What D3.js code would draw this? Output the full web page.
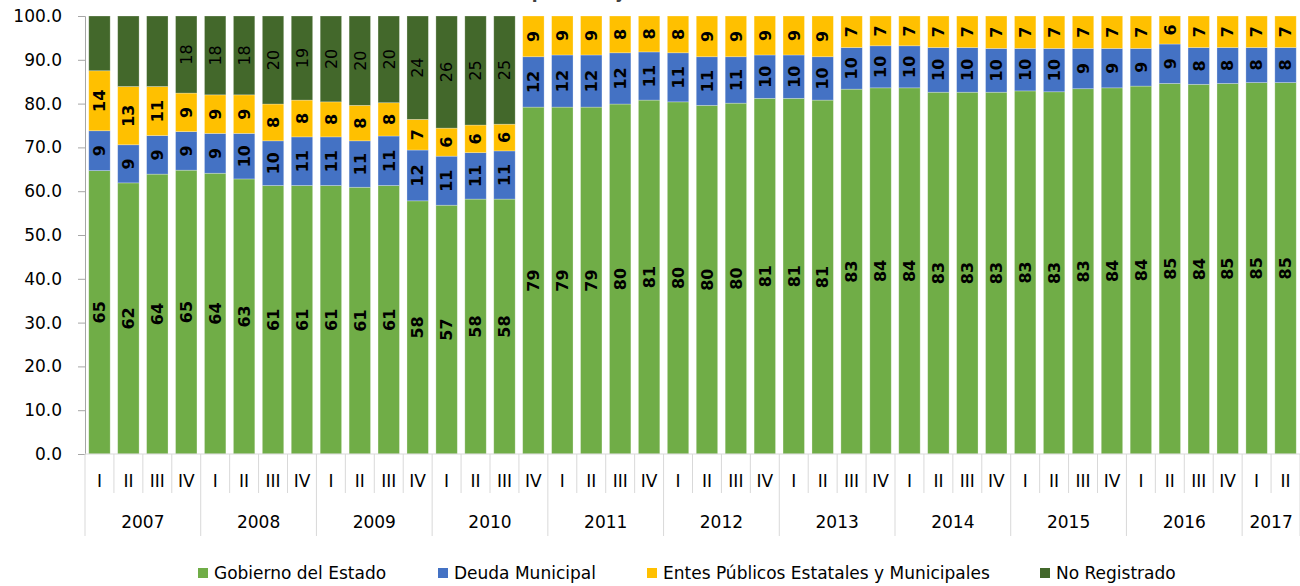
<!DOCTYPE html>
<html>
<head>
<meta charset="utf-8">
<script src="https://cdn.jsdelivr.net/npm/d3@7"></script>
<style>
  html, body { margin: 0; padding: 0; background: #fff; }
  svg { display: block; }
  text { font-family: "DejaVu Sans", "Noto Sans", sans-serif; }
</style>
</head>
<body>
<svg id="chart" width="1300" height="586"></svg>
<script>
// ---------------- data ----------------
const years = ["2007","2008","2009","2010","2011","2012","2013","2014","2015","2016","2017"];
const quarterNames = ["I","II","III","IV"];
const quartersPerYear = [4,4,4,4,4,4,4,4,4,4,2];

const seriesNames = ["Gobierno del Estado","Deuda Municipal","Entes Públicos Estatales y Municipales","No Registrado"];
const seriesColors = ["#70AD47","#4472C4","#FFC000","#43682B"];

const gobierno = [64.7, 61.9, 63.9, 64.8, 64.1, 62.8, 61.3, 61.3, 61.3, 60.9, 61.3, 57.8, 56.8, 58.2, 58.2,
                  79.2, 79.2, 79.2, 79.9, 80.8, 80.4, 79.6, 80.1, 81.2, 81.2, 80.8, 83.3, 83.6, 83.6,
                  82.6, 82.6, 82.6, 82.9, 82.7, 83.4, 83.6, 84.0, 84.6, 84.4, 84.6, 84.8, 84.8];
const deudaMunicipal = [9.1, 8.7, 8.8, 8.8, 9.1, 10.4, 10.2, 11.1, 11.1, 10.6, 11.3, 11.6, 11.2, 10.6, 11.0,
                  11.5, 11.9, 11.9, 11.7, 11.0, 11.2, 11.1, 10.6, 9.9, 9.9, 9.9, 9.5, 9.6, 9.6,
                  10.2, 10.2, 10.0, 9.7, 9.9, 9.2, 9.0, 8.6, 9.0, 8.4, 8.2, 8.0, 8.0];
const entesPublicos = [13.7, 13.3, 11.2, 8.8, 8.8, 8.8, 8.4, 8.4, 8.0, 8.1, 7.6, 7.0, 6.4, 6.3, 6.1,
                  9.3, 8.9, 8.9, 8.4, 8.2, 8.4, 9.3, 9.3, 8.9, 8.9, 9.3, 7.2, 6.8, 6.8,
                  7.2, 7.2, 7.4, 7.4, 7.4, 7.4, 7.4, 7.4, 6.4, 7.2, 7.2, 7.2, 7.2];
const noRegistrado = [12.5, 16.1, 16.1, 17.6, 18.0, 18.0, 20.1, 19.2, 19.6, 20.4, 19.8, 23.6, 25.6, 24.9, 24.7,
                  0, 0, 0, 0, 0, 0, 0, 0, 0, 0, 0, 0, 0, 0,
                  0, 0, 0, 0, 0, 0, 0, 0, 0, 0, 0, 0, 0];
// data labels not shown in the original for these bars of "No Registrado"
const noRegistradoUnlabeled = [0, 1, 2];

const yTicks = [0,10,20,30,40,50,60,70,80,90,100];

// ---------------- build ----------------
const categories = [];
years.forEach((yr, yi) => {
  for (let q = 0; q < quartersPerYear[yi]; q++) {
    categories.push({ id: yr + "-" + quarterNames[q], year: yr, q: quarterNames[q] });
  }
});
const seriesValues = [gobierno, deudaMunicipal, entesPublicos, noRegistrado];
const rows = categories.map((c, i) => {
  const r = { id: c.id, idx: i };
  seriesNames.forEach((s, si) => r[s] = seriesValues[si][i]);
  return r;
});
const stacked = d3.stack().keys(seriesNames)(rows);

const svg = d3.select("#chart");
const plotLeft = 85, plotRight = 1300, plotTop = 16, plotBottom = 454;

const x = d3.scaleBand().domain(categories.map(c => c.id)).range([plotLeft, plotRight])
  .paddingInner(0.26).paddingOuter(0.13);
const y = d3.scaleLinear().domain([0, 100]).range([plotBottom, plotTop]);

// title (mostly outside the visible area, as in the source)
svg.append("text").attr("x", 655).attr("y", -2).attr("text-anchor", "middle")
  .attr("font-size", 17).attr("font-weight", "bold").attr("fill", "#404040")
  .text("(porcentaje del saldo total)");

// bars
const layer = svg.append("g").selectAll("g").data(stacked).join("g")
  .attr("fill", (d, i) => seriesColors[i]);
layer.selectAll("rect").data(d => d).join("rect")
  .attr("x", d => x(d.data.id))
  .attr("width", x.bandwidth())
  .attr("y", d => y(d[1]))
  .attr("height", d => Math.max(0, y(d[0]) - y(d[1])))
  .attr("stroke", "#ffffff").attr("stroke-opacity", 0.35).attr("stroke-width", 0.75);

// data labels
const fmt = d3.format(".0f");
stacked.forEach((s, si) => {
  const g = svg.append("g");
  s.forEach((d, i) => {
    const v = d[1] - d[0];
    if (v <= 0) return;
    if (si === 3 && noRegistradoUnlabeled.includes(i)) return;
    const cx = x(d.data.id) + x.bandwidth() / 2;
    const cy = (y(d[0]) + y(d[1])) / 2;
    g.append("text")
      .attr("transform", `translate(${cx},${cy}) rotate(-90)`)
      .attr("text-anchor", "middle").attr("dy", "0.36em")
      .attr("font-size", 16)
      .attr("font-weight", si === 3 ? "normal" : "bold")
      .attr("fill", "#000")
      .text(fmt(v));
  });
});

// y axis
const yAxis = d3.axisLeft(y).tickValues(yTicks).tickFormat(d3.format(".1f"))
  .tickSize(7).tickPadding(16);
const gy = svg.append("g").attr("transform", `translate(${plotLeft},0)`).call(yAxis);
gy.select(".domain").attr("stroke", "#a6a6a6");
gy.selectAll(".tick line").attr("stroke", "#a6a6a6");
gy.selectAll(".tick text").attr("font-size", 17).attr("fill", "#000")
  .attr("font-family", "DejaVu Sans, sans-serif");

// x axis: baseline + category grid
const gx = svg.append("g");
gx.append("line").attr("x1", plotLeft).attr("x2", plotRight).attr("y1", plotBottom).attr("y2", plotBottom)
  .attr("stroke", "#d9d9d9");
const half = x.step() * x.paddingInner() / 2;
categories.forEach((c, i) => {
  const bx = x(c.id) - half;
  const isYearStart = c.q === "I";
  gx.append("line").attr("x1", bx).attr("x2", bx).attr("y1", plotBottom)
    .attr("y2", isYearStart ? 536 : 493).attr("stroke", "#d9d9d9");
  gx.append("text").attr("x", x(c.id) + x.bandwidth() / 2).attr("y", 487)
    .attr("text-anchor", "middle").attr("font-size", 17).attr("fill", "#000")
    .text(c.q);
});
const endX = x(categories[categories.length - 1].id) + x.bandwidth() + half;
gx.append("line").attr("x1", endX).attr("x2", endX).attr("y1", plotBottom).attr("y2", 536)
  .attr("stroke", "#d9d9d9");
years.forEach((yr) => {
  const cats = categories.filter(c => c.year === yr);
  const x0 = x(cats[0].id), x1 = x(cats[cats.length - 1].id) + x.bandwidth();
  gx.append("text").attr("x", (x0 + x1) / 2).attr("y", 528)
    .attr("text-anchor", "middle").attr("font-size", 17).attr("fill", "#000")
    .text(yr);
});

// legend
const legendX = [198, 438, 647, 1040];
const lg = svg.append("g");
seriesNames.forEach((s, i) => {
  lg.append("rect").attr("x", legendX[i]).attr("y", 568).attr("width", 10).attr("height", 10)
    .attr("fill", seriesColors[i]);
  lg.append("text").attr("x", legendX[i] + 16).attr("y", 579)
    .attr("font-size", 17).attr("fill", "#000").text(s);
});
</script>
</body>
</html>
